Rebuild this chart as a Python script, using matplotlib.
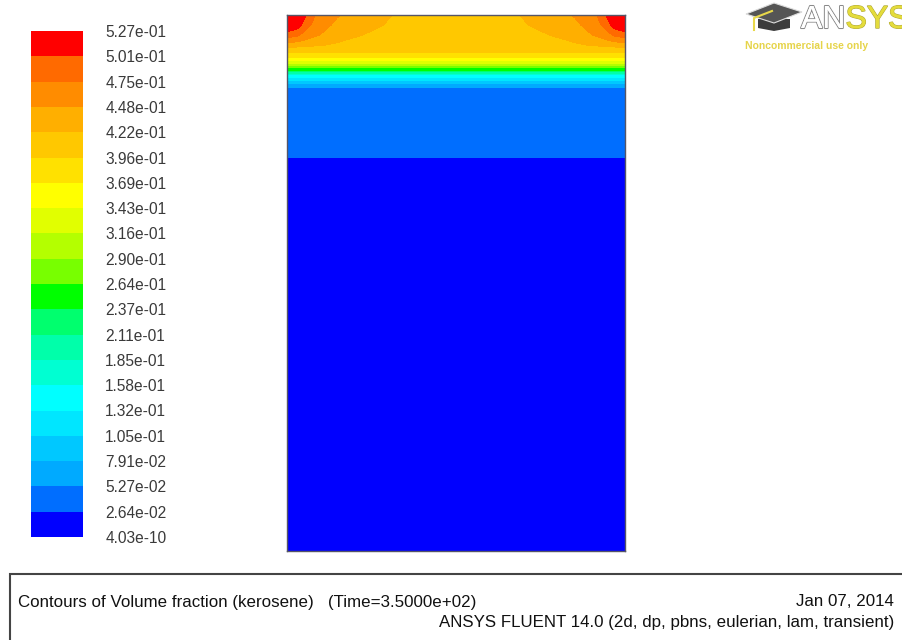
import numpy as np
import matplotlib
matplotlib.use('Agg')
import matplotlib.pyplot as plt
import matplotlib.patheffects as pe
from matplotlib.patches import Polygon, Rectangle

# contour levels (bottom to top) and the band colours between them
levels = [4.03e-10, 2.64e-02, 5.27e-02, 7.91e-02, 1.05e-01, 1.32e-01, 1.58e-01,
          1.85e-01, 2.11e-01, 2.37e-01, 2.64e-01, 2.90e-01, 3.16e-01, 3.43e-01,
          3.69e-01, 3.96e-01, 4.22e-01, 4.48e-01, 4.75e-01, 5.01e-01, 5.27e-01]
band_colors = ['#0000ff', '#006eff', '#00aaff', '#00c8ff', '#00e6ff', '#00ffff',
               '#00ffd2', '#00ffaa', '#00ff6e', '#00ff00', '#78ff00', '#b4ff00',
               '#e1ff00', '#ffff00', '#ffe100', '#ffc800', '#ffaf00', '#ff8c00',
               '#ff6a00', '#ff0000']

# domain size (px) and read-off field samples
width = 338
height = 536
# left half columns (distance from left wall), mirrored for the right half
cols_half = [0, 10, 18, 30, 50, 80, 105, 169]
# top rows near the free surface, with hot corners
top_depths = [0, 10, 20, 30]
top_rows = [
    [0.526, 0.522, 0.505, 0.470, 0.450, 0.435, 0.422, 0.410],
    [0.524, 0.515, 0.490, 0.460, 0.443, 0.430, 0.418, 0.408],
    [0.490, 0.480, 0.465, 0.450, 0.435, 0.420, 0.412, 0.405],
    [0.435, 0.433, 0.430, 0.425, 0.418, 0.410, 0.405, 0.402],
]
# vertical profile below, uniform across the width
prof_depths = [36, 40, 46, 50, 53, 56, 60, 63, 66, 69, 73, 78, 140, 143, 147, 536]
prof_values = [0.400, 0.392, 0.345, 0.310, 0.262, 0.236, 0.160, 0.131, 0.104,
               0.078, 0.051, 0.045, 0.030, 0.026, 0.004, 0.0]

X = np.array(cols_half + [width - c for c in cols_half[-2::-1]], dtype=float)
D = np.array(top_depths + prof_depths, dtype=float)
rows = [np.concatenate([r, r[-2::-1]]) for r in top_rows]
rows += [np.full(len(X), v) for v in prof_values]
Z = np.vstack(rows)

W, H = 902, 640
fig = plt.figure(figsize=(W / 100, H / 100), dpi=100)
fig.patch.set_facecolor('white')
sans = ['Liberation Sans', 'DejaVu Sans']

# contour domain
ax = fig.add_axes([287 / W, (H - 551) / H, 338 / W, 536 / H])
cs = ax.contourf(X, D, Z, levels=levels, colors=band_colors)
ax.set_xlim(0, width)
ax.set_ylim(height, 0)
ax.set_xticks([])
ax.set_yticks([])
for s in ax.spines.values():
    s.set_color('#555566')
    s.set_linewidth(1.0)

# colour scale
cax = fig.add_axes([31 / W, (H - 537) / H, 52 / W, 506 / H])
cb = fig.colorbar(cs, cax=cax, ticks=levels, format='%.2e')
cb.outline.set_visible(False)
cax.tick_params(length=0, pad=16, labelsize=11.2, labelcolor='#3a3a3a')
for t in cax.get_yticklabels():
    t.set_fontfamily(sans)

# footer box
fig.patches.append(Rectangle((10 / W, -0.1), 1.0, (H - 574) / H + 0.1,
                             transform=fig.transFigure, fill=False,
                             edgecolor='#444444', linewidth=1.5, clip_on=False))
fig.text(18 / W, 1 - 602 / H,
         'Contours of Volume fraction (kerosene)   (Time=3.5000e+02)',
         fontsize=12.2, family=sans, va='center', ha='left', color='#111111')
fig.text(894 / W, 1 - 602 / H, 'Jan 07, 2014',
         fontsize=12.2, family=sans, va='center', ha='right', color='#111111')
fig.text(894 / W, 1 - 622 / H,
         'ANSYS FLUENT 14.0 (2d, dp, pbns, eulerian, lam, transient)',
         fontsize=12.2, family=sans, va='center', ha='right', color='#111111')

# ANSYS logo (top right)
def px(x, y):
    return (x / W, 1 - y / H)

fig.patches.append(Polygon([px(758, 19), px(790, 19), px(790, 28), px(774, 31), px(758, 28)],
                           closed=True, transform=fig.transFigure,
                           facecolor='#3c3c3c', edgecolor='none'))
fig.patches.append(Polygon([px(746, 14), px(774, 3), px(802, 12), px(774, 23)],
                           closed=True, transform=fig.transFigure,
                           facecolor='#555555', edgecolor='#dddddd', linewidth=0.8))
fig.lines.append(plt.Line2D([772 / W, 754 / W, 754 / W],
                            [1 - 11 / H, 1 - 18 / H, 1 - 30 / H],
                            transform=fig.transFigure, color='#e8d84a', linewidth=1.5))
t_an = fig.text(801 / W, 1 - 28 / H, 'AN', fontsize=23, family=sans,
                color='white', va='baseline', ha='left',
                path_effects=[pe.withStroke(linewidth=1.5, foreground='#8a8a8a'),
                              pe.Normal()])
ax_logo = fig.add_axes([0, 0, 1, 1], facecolor='none')
ax_logo.set_axis_off()
ax_logo.annotate('SYS', xy=(1, 0), xycoords=t_an, xytext=(0, 0), textcoords='offset points',
                 fontsize=23, family=sans, color='#e4dc3c', va='bottom', ha='left',
                 path_effects=[pe.withStroke(linewidth=1.0, foreground='#b0a830'),
                               pe.Normal()])
fig.text(745 / W, 1 - 46 / H, 'Noncommercial use only', fontsize=7.5,
         fontweight='bold', family=sans,
         color='#e6d44a', va='center', ha='left')

fig.savefig('out.png', dpi=100, facecolor='white')
